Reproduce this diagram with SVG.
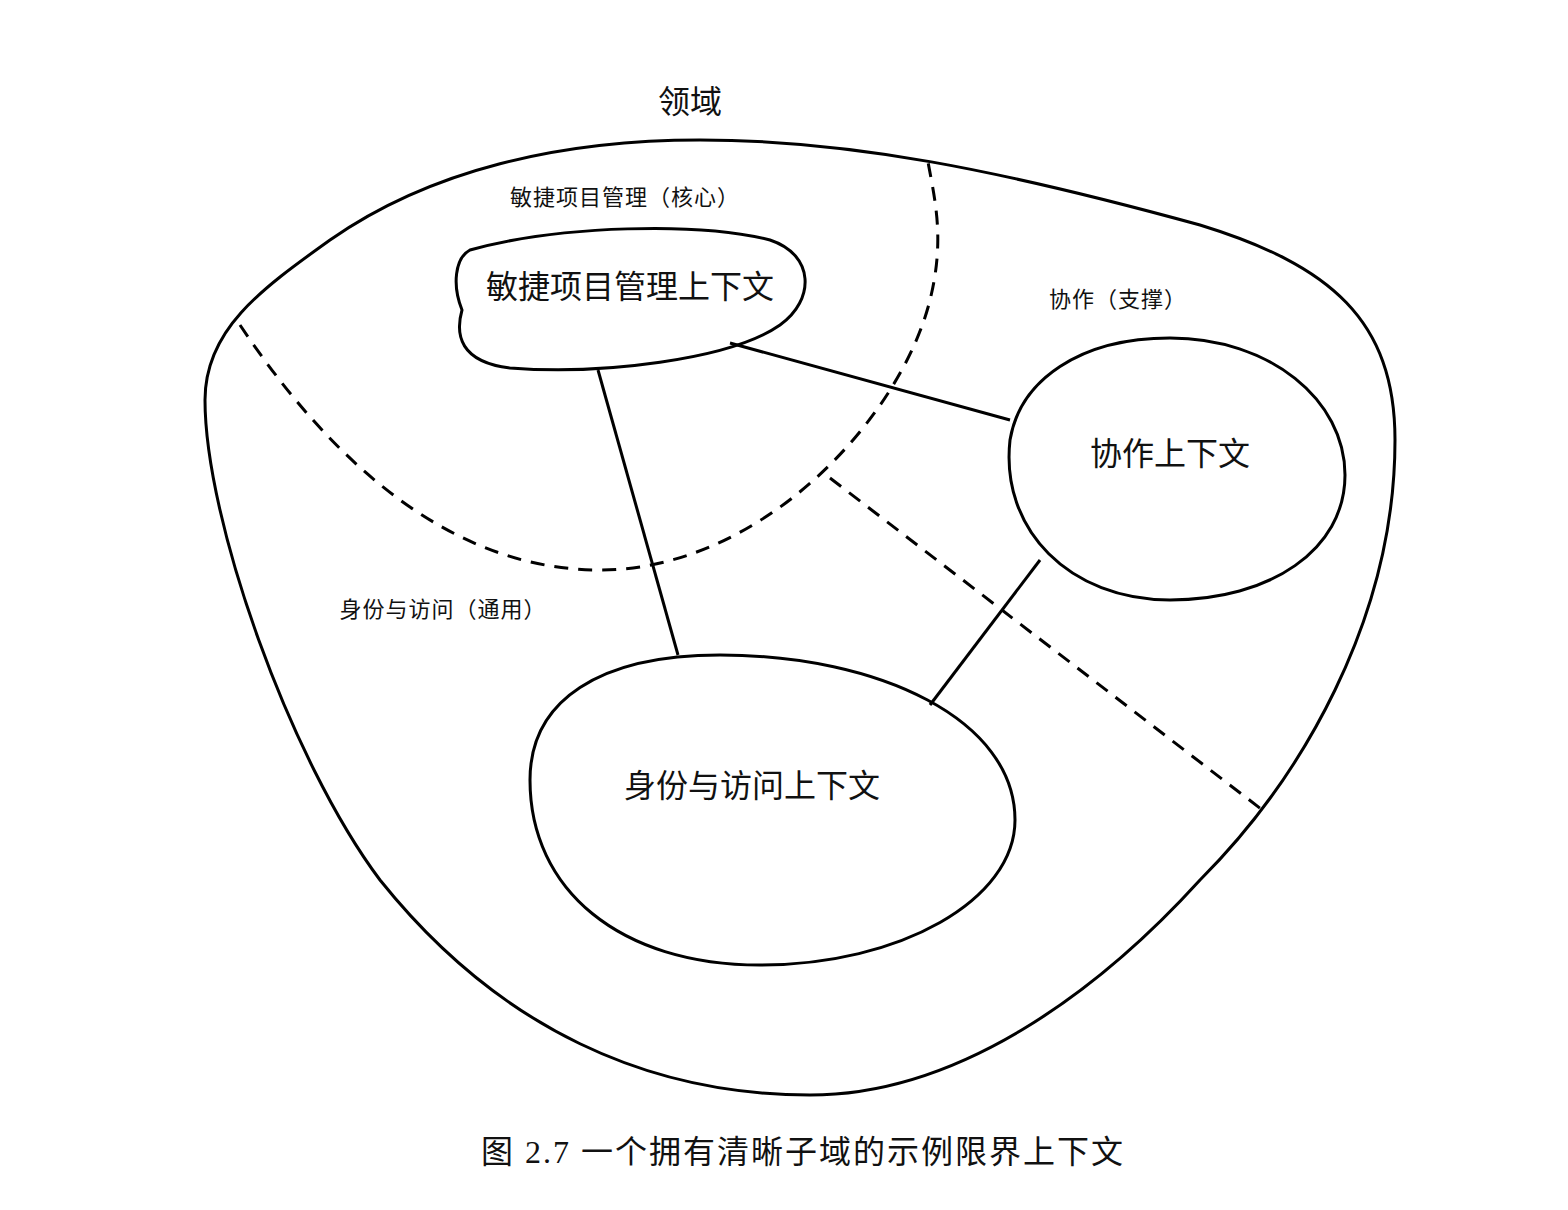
<svg xmlns="http://www.w3.org/2000/svg" width="1568" height="1210" viewBox="0 0 1568 1210">
<style>
.s{fill:none;stroke:#000;stroke-width:3}
.d{fill:none;stroke:#000;stroke-width:3;stroke-dasharray:14 10}
.t{font-family:"Noto Sans CJK SC","Noto Sans",sans-serif;fill:#111;text-anchor:middle}
.c{font-family:"Liberation Serif","Noto Sans CJK SC",serif;fill:#111;text-anchor:middle}
</style>
<rect width="1568" height="1210" fill="#fff"/>
<g id="domain">
<path class="s" d="M700,140 C850,140 1000,170 1200,225 C1330,265 1395,320 1395,440 C1395,620 1300,780 1200,880 C1100,990 960,1095 810,1095 C650,1095 500,1030 380,880 C290,760 205,520 205,400 C205,330 260,290 330,240 C430,170 560,140 700,140 Z"/>
<text class="t" x="690" y="113" font-size="32">领域</text>
</g>
<g id="boundaries">
<path class="d" d="M240,325 C330,460 450,570 600,570 C760,570 900,420 930,300 C945,240 935,200 928,162"/>
<path class="d" d="M830,478 L1265,812"/>
<text class="t" x="625" y="205" font-size="22" letter-spacing="1">敏捷项目管理（核心）</text>
<text class="t" x="1118" y="307" font-size="22" letter-spacing="1">协作（支撑）</text>
<text class="t" x="443" y="617" font-size="22" letter-spacing="1">身份与访问（通用）</text>
</g>
<g id="connectors">
<line class="s" x1="730" y1="343" x2="1010" y2="420"/>
<line class="s" x1="598" y1="370" x2="678" y2="655"/>
<line class="s" x1="1040" y1="560" x2="930" y2="705"/>
</g>
<g id="agile">
<path class="s" d="M470,250 C560,225 700,222 770,240 C815,255 815,300 780,325 C730,360 600,375 510,368 C460,362 455,335 462,310 C452,285 455,258 470,250 Z"/>
<text class="t" x="630" y="298" font-size="32">敏捷项目管理上下文</text>
</g>
<g id="collab">
<path class="s" d="M1010,440 C1020,380 1080,338 1170,338 C1270,338 1345,400 1345,475 C1345,550 1270,600 1170,600 C1070,600 1000,530 1010,440 Z"/>
<text class="t" x="1170" y="465" font-size="32">协作上下文</text>
</g>
<g id="identity">
<path class="s" d="M530,780 C530,700 600,655 720,655 C880,655 1015,720 1015,820 C1015,900 900,965 760,965 C620,965 530,890 530,780 Z"/>
<text class="t" x="752" y="797" font-size="32">身份与访问上下文</text>
</g>
<text class="c" x="803" y="1163" font-size="32" letter-spacing="2">图 2.7  一个拥有清晰子域的示例限界上下文</text>
</svg>
